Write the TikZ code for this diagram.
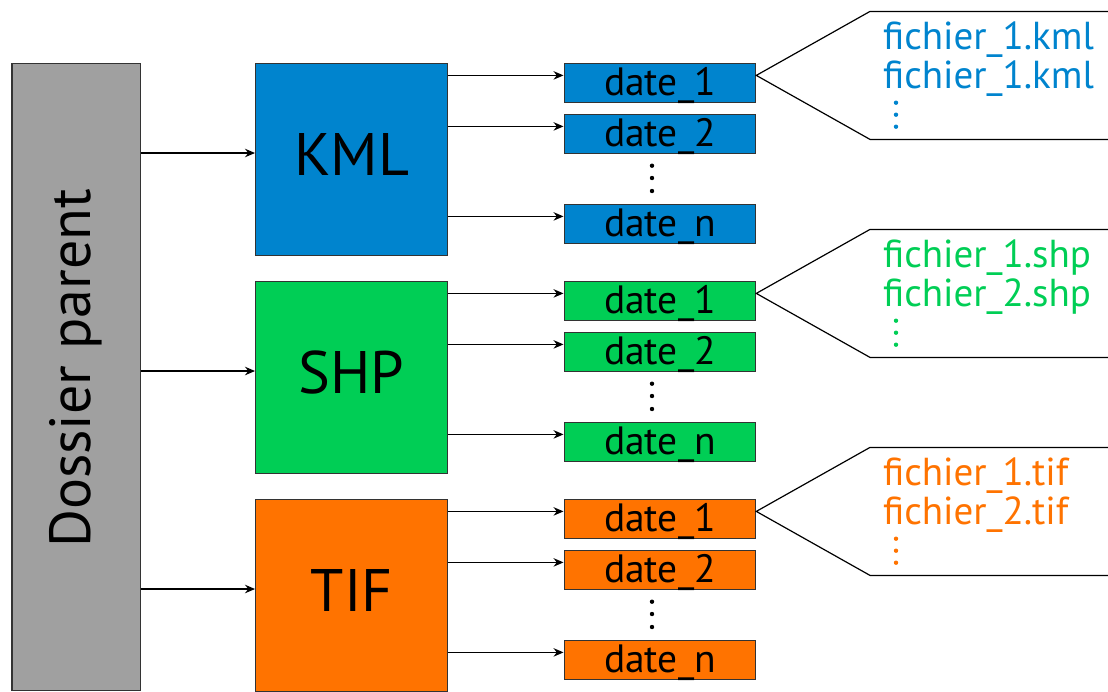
\documentclass[tikz,border=0pt]{standalone}
\usepackage{fontspec}
\setmainfont{PT Sans}
\usetikzlibrary{arrows.meta,calc}
\definecolor{kmlblue}{RGB}{0,132,206}
\definecolor{shpgreen}{RGB}{0,206,85}
\definecolor{tiforange}{RGB}{255,115,0}
\definecolor{grayfill}{RGB}{160,160,160}
\begin{document}
\begin{tikzpicture}[x=1pt,y=-1pt,
  outline/.style={draw=black!80,line width=1.3pt},
  parentbox/.style={outline,fill=grayfill,anchor=north west,minimum width=128.7pt,minimum height=627pt,inner sep=0pt},
  groupbox/.style={outline,anchor=north west,minimum width=192pt,minimum height=192pt,inner sep=0pt,font=\fontsize{60}{60}\selectfont,text height=31.7pt,text depth=0pt},
  datebox/.style={outline,anchor=north west,minimum width=191.5pt,minimum height=38.5pt,inner sep=0pt,font=\fontsize{39.5}{39.5}\selectfont,text height=25pt,text depth=0pt},
  link/.style={line width=1.2pt,black,-{Stealth[length=10pt,width=8.5pt]}},
  callout/.style={line width=1.2pt,black},
  filetext/.style={anchor=base west,inner sep=0pt,font=\fontsize{39}{39}\selectfont},
]
\useasboundingbox (0,0) rectangle (1108,691);

% parent folder
\node[parentbox] (parent) at (11.3,63) {};
\node[rotate=90,anchor=base,inner sep=0pt,font=\fontsize{58}{58}\selectfont] (parentlabel) at (90,368.5) {Dossier parent};

% one group per file format
\foreach \nm/\gy/\col/\ext/\sn in {KML/63/kmlblue/kml/1, SHP/281/shpgreen/shp/2, TIF/499/tiforange/tif/2} {
  \node[groupbox,fill=\col] (\nm) at (255,\gy) {\nm};
  \coordinate (\nm-in) at (255,\gy+90);
  \draw[link] (parent.east |- \nm-in) -- (\nm-in);

  % date folders
  \node[datebox,fill=\col] (\nm-d1) at (563.5,\gy) {date\_1};
  \node[datebox,fill=\col] (\nm-d2) at (563.5,\gy+51) {date\_2};
  \node[datebox,fill=\col] (\nm-dn) at (563.5,\gy+141) {date\_n};
  \foreach \d in {d1,d2,dn} {
    \coordinate (\nm-\d-in) at ($(\nm-\d.north west)+(0,12.4)$);
    \draw[link] (\nm.east |- \nm-\d-in) -- (\nm-\d-in);
  }
  \foreach \dy in {13.2,25.5,38.5}
    \fill (652,\gy+89.5+\dy) circle (2.2pt);

  % callout listing the files
  \coordinate (\nm-tip) at (\nm-d1.east |- \nm-d1-in);
  \draw[callout] (1112,\gy+12.4-64) -- (870,\gy+12.4-64) -- (\nm-tip)
    -- (870,\gy+12.4+64) -- (1112,\gy+12.4+64);
  \node[filetext,text=\col] (\nm-f1) at (883,\gy+12.4-25.7) {fichier\_1.\ext};
  \node[filetext,text=\col] (\nm-f2) at (883,\gy+12.4+13.3) {fichier\_\sn.\ext};
  \foreach \dy in {27.3,39.3,51.3}
    \fill[\col] (896,\gy+12.4+\dy) circle (2.2pt);
}
\end{tikzpicture}
\end{document}
